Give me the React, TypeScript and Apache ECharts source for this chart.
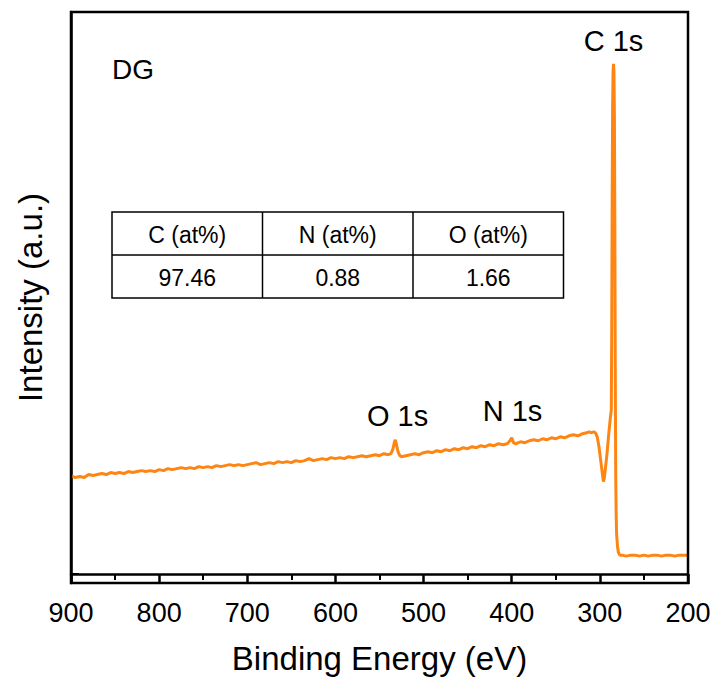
import React, { useEffect, useRef } from "react";
import * as echarts from "echarts";

// Binding energy (eV) and intensity (a.u.)
const energy: number[] = [
  900, 895, 890, 885, 880, 875, 870, 865, 860, 855, 850, 845, 840, 835, 830, 825, 820, 815, 810, 805,
  800, 795, 790, 785, 780, 775, 770, 765, 760, 755, 750, 745, 740, 735, 730, 725, 720, 715, 710, 705,
  700, 695, 690, 685, 680, 675, 670, 665, 660, 655, 650, 645, 640, 635, 630, 625, 620, 615, 610, 605,
  600, 595, 590, 585, 580, 575, 570, 565, 560, 555, 550, 545, 540, 537, 535, 533, 532, 531, 529, 527,
  525, 520, 515, 510, 505, 500, 495, 490, 485, 480, 475, 470, 465, 460, 455, 450, 445, 440, 435, 430,
  425, 420, 415, 410, 405, 402, 400, 398, 395, 390, 385, 380, 375, 370, 365, 360, 355, 350, 345, 340,
  335, 330, 325, 320, 315, 312, 310, 307, 305, 303, 301, 299, 297, 296, 295, 294, 292, 290, 288, 287,
  286.5, 286, 285.5, 285, 284.5, 284, 283.5, 283, 282.5, 282, 281.5, 281, 280, 279, 278, 277, 275, 270,
  265, 260, 255, 250, 245, 240, 235, 230, 225, 220, 215, 210, 205, 200,
];
const intensity: number[] = [
  99, 97, 98, 97, 100, 99, 100, 101, 100, 102, 101, 102, 101, 103, 102, 103, 104, 103, 104, 103,
  105, 104, 106, 105, 106, 107, 106, 107, 106, 108, 107, 108, 107, 109, 108, 109, 110, 109, 110, 109,
  110, 111, 112, 110, 111, 112, 111, 113, 112, 113, 112, 114, 113, 114, 116, 114, 115, 116, 115, 117,
  116, 117, 116, 118, 117, 118, 119, 118, 119, 120, 119, 121, 120, 121, 125, 133, 135, 131, 123, 119,
  118, 119, 120, 121, 120, 122, 123, 122, 124, 123, 125, 124, 126, 125, 127, 126, 128, 127, 129, 128,
  130, 129, 131, 130, 131, 134, 137, 132, 131, 133, 132, 134, 135, 134, 136, 135, 137, 136, 138, 137,
  139, 140, 139, 141, 142, 143, 142, 143, 142, 138, 128, 114, 100, 93, 96, 104, 120, 140, 158, 165,
  250, 380, 470, 505, 513, 505, 460, 350, 200, 100, 60, 40, 28, 22, 20, 19, 19, 18,
  19, 19, 18, 19, 18, 19, 19, 18, 19, 19, 18, 19, 19, 19,
];

const peakLabels: string[] = ["C 1s", "O 1s", "N 1s"];
const peakLabelPos: number[][] = [
  [284, 535],
  [529, 158],
  [398.5, 163],
];
const sampleName = "DG";
const tableHeaders: string[] = ["C (at%)", "N (at%)", "O (at%)"];
const tableValues: string[] = ["97.46", "0.88", "1.66"];

const FONT = "'Liberation Sans', Arial, sans-serif";

export default function App() {
  const ref = useRef<HTMLDivElement>(null);
  useEffect(() => {
    if (!ref.current) return;
    const chart = echarts.init(ref.current, null, { renderer: "svg" });
    const data = energy.map((e, i) => [e, intensity[i]]);

    const tLeft = 112;
    const tTop = 212;
    const colW = 150.5;
    const rowH = 43;
    const tableGraphics: any[] = [];
    tableGraphics.push({
      type: "rect",
      shape: { x: tLeft, y: tTop, width: colW * 3, height: rowH * 2 },
      style: { fill: "#fff", stroke: "#000", lineWidth: 1.5 },
    });
    tableGraphics.push({
      type: "line",
      shape: { x1: tLeft, y1: tTop + rowH, x2: tLeft + colW * 3, y2: tTop + rowH },
      style: { stroke: "#000", lineWidth: 1.5 },
    });
    for (let c = 1; c < 3; c++) {
      tableGraphics.push({
        type: "line",
        shape: { x1: tLeft + colW * c, y1: tTop, x2: tLeft + colW * c, y2: tTop + rowH * 2 },
        style: { stroke: "#000", lineWidth: 1.5 },
      });
    }
    tableHeaders.forEach((h, c) => {
      tableGraphics.push({
        type: "text",
        x: tLeft + colW * c + colW / 2,
        y: tTop + rowH / 2 + 1,
        style: { text: h, fill: "#000", fontSize: 23, fontFamily: FONT, align: "center", verticalAlign: "middle" },
      });
      tableGraphics.push({
        type: "text",
        x: tLeft + colW * c + colW / 2,
        y: tTop + rowH * 1.5 + 1,
        style: { text: tableValues[c], fill: "#000", fontSize: 23, fontFamily: FONT, align: "center", verticalAlign: "middle" },
      });
    });

    chart.setOption({
      animation: false,
      grid: { left: 71, right: 29, top: 12, bottom: 101, containLabel: false },
      xAxis: {
        type: "value",
        min: 200,
        max: 900,
        interval: 100,
        inverse: true,
        name: "Binding Energy (eV)",
        nameLocation: "middle",
        nameGap: 59,
        nameTextStyle: { fontSize: 33, fontFamily: FONT, color: "#000" },
        axisLine: { show: true, lineStyle: { color: "#000", width: 2.5 } },
        axisTick: { show: true, length: 10, lineStyle: { color: "#000", width: 2.5 } },
        minorTick: { show: true, splitNumber: 2, length: 6, lineStyle: { color: "#000", width: 2 } },
        axisLabel: { fontSize: 27, fontFamily: FONT, color: "#000", margin: 16 },
        splitLine: { show: false },
      },
      yAxis: {
        type: "value",
        min: -9,
        max: 565,
        name: "Intensity (a.u.)",
        nameLocation: "middle",
        nameGap: 24,
        nameTextStyle: { fontSize: 33, fontFamily: FONT, color: "#000" },
        axisLine: { show: true, lineStyle: { color: "#000", width: 2.5 } },
        axisTick: { show: true, inside: true, length: 8, customValues: [0], lineStyle: { color: "#000", width: 2 } },
        axisLabel: { show: false },
        splitLine: { show: false },
      },
      graphic: [
        {
          type: "rect",
          shape: { x: 71, y: 12, width: 617, height: 571 },
          style: { fill: "none", stroke: "#000", lineWidth: 2.5 },
          silent: true,
          z: 10,
        },
        {
          type: "text",
          x: 112,
          y: 69,
          style: { text: sampleName, fill: "#000", fontSize: 28, fontFamily: FONT, verticalAlign: "middle" },
        },
        ...tableGraphics,
      ],
      series: [
        {
          type: "line",
          data,
          symbol: "none",
          lineStyle: { color: "#ff8512", width: 3 },
          z: 3,
        },
        {
          type: "scatter",
          symbolSize: 1,
          itemStyle: { opacity: 0 },
          data: peakLabelPos.map((p, i) => ({ value: p, name: peakLabels[i] })),
          label: {
            show: true,
            position: [0, 0],
            align: "center",
            verticalAlign: "middle",
            formatter: (p: any) => p.name,
            fontSize: 29,
            fontFamily: FONT,
            color: "#000",
            opacity: 1,
          },
          silent: true,
        },
      ],
    });
    return () => chart.dispose();
  }, []);
  return <div ref={ref} style={{ position: "absolute", left: 0, top: 0, width: 717, height: 684 }} />;
}
